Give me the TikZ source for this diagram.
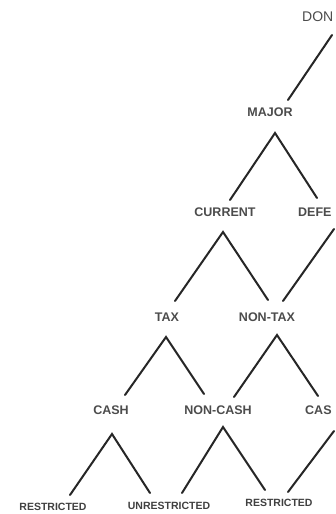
\documentclass[tikz,border=0pt]{standalone}
\usepackage{fontspec}
\setmainfont{Liberation Sans}
\begin{document}
\begin{tikzpicture}[x=1pt,y=-1pt,
  lbl/.style={inner sep=0pt,text=black!70,font=\bfseries\fontsize{12.5}{13}\selectfont},
  small/.style={inner sep=0pt,text=black!75,font=\bfseries\fontsize{10.5}{11}\selectfont},
  branch/.style={line width=2pt,draw=black!85,line cap=round}]
\useasboundingbox[clip] (0,0) rectangle (335,514);
\fill[white] (0,0) rectangle (335,514);
% labels
\node[lbl,anchor=west,font=\fontsize{14}{14}\selectfont] (don) at (302,17) {DON};
\node[lbl] (major) at (270,112) {MAJOR};
\node[lbl] (current) at (225,212) {CURRENT};
\node[lbl,anchor=west] (defe) at (298,212) {DEFE};
\node[lbl] (tax) at (167,317) {TAX};
\node[lbl] (nontax) at (267,317) {NON-TAX};
\node[lbl] (cash) at (111,410) {CASH};
\node[lbl] (noncash) at (218,410) {NON-CASH};
\node[lbl,anchor=west] (cas) at (305,410) {CAS};
\node[small] (restr1) at (53,507) {RESTRICTED};
\node[small] (unrestr) at (169,506) {UNRESTRICTED};
\node[small] (restr2) at (279,503) {RESTRICTED};
% apex coordinates
\coordinate (a0) at (332,35);
\coordinate (a1) at (275,133);
\coordinate (a2) at (223,232);
\coordinate (a3) at (334,229);
\coordinate (a4) at (166,337);
\coordinate (a5) at (277,335);
\coordinate (a6) at (112,434);
\coordinate (a7) at (223,427);
\coordinate (a8) at (334,431);
% end coordinates
\coordinate (eMajor) at (288,100);
\coordinate (eCur) at (230,200);
\coordinate (eDef) at (317,198);
\coordinate (eTax) at (175,301);
\coordinate (eNT1) at (268,300);
\coordinate (eNT2) at (283,301);
\coordinate (eCash) at (125,395);
\coordinate (eNC1) at (204,394);
\coordinate (eNC2) at (234,397);
\coordinate (eCas) at (318,396);
\coordinate (eR1) at (70,495);
\coordinate (eU1) at (150,493);
\coordinate (eU2) at (182,493);
\coordinate (eR2a) at (265,490);
\coordinate (eR2b) at (288,492);
% branches
\draw[branch] (a0) -- (eMajor);
\draw[branch] (eCur) -- (a1) -- (eDef);
\draw[branch] (eTax) -- (a2) -- (eNT1);
\draw[branch] (eNT2) -- (a3);
\draw[branch] (eCash) -- (a4) -- (eNC1);
\draw[branch] (eNC2) -- (a5) -- (eCas);
\draw[branch] (eR1) -- (a6) -- (eU1);
\draw[branch] (eU2) -- (a7) -- (eR2a);
\draw[branch] (eR2b) -- (a8);
\end{tikzpicture}
\end{document}
